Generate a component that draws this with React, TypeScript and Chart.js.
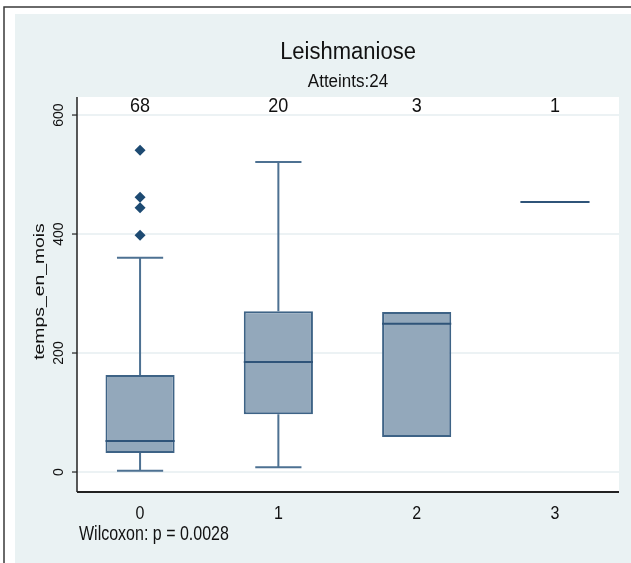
import React, { useEffect, useRef } from "react";
import { Chart, registerables } from "chart.js";

Chart.register(...registerables);

// ---- data ----
const categories = ["0", "1", "2", "3"];
const groupCounts = ["68", "20", "3", "1"];
const q1Values = [32, 97, 59, 454];
const medianValues = [52, 185, 249, 454];
const q3Values = [163, 270, 269, 454];
const whiskerLow = [2, 8, 59, 454];
const whiskerHigh = [360, 521, 269, 454];
const outlierGroups = [0, 0, 0, 0];
const outlierValues = [541, 462, 444, 398];
const yTickValues = [0, 200, 400, 600];
const titleText = "Leishmaniose";
const subtitleText = "Atteints:24";
const yAxisTitle = "temps_en_mois";
const noteText = "Wilcoxon: p = 0.0028";

const FONT = '"Liberation Sans", Arial, sans-serif';

function drawText(
  ctx: CanvasRenderingContext2D,
  text: string,
  x: number,
  y: number,
  size: number,
  align: CanvasTextAlign,
  stretch: number,
  rotated = false,
  color = "#111"
) {
  ctx.save();
  ctx.translate(x, y);
  ctx.scale(1, stretch);
  if (rotated) ctx.rotate(-Math.PI / 2);
  ctx.font = `${size}px ${FONT}`;
  ctx.fillStyle = color;
  ctx.textAlign = align;
  ctx.textBaseline = "alphabetic";
  ctx.fillText(text, 0, 0);
  ctx.restore();
}

const stataPlugin = {
  id: "stataDecor",
  beforeDraw(chart: any) {
    const { ctx, chartArea, scales } = chart;
    const W = chart.width;
    const H = chart.height;
    ctx.save();
    ctx.fillStyle = "#ffffff";
    ctx.fillRect(0, 0, W, H);
    // outer frame lines
    ctx.strokeStyle = "#3a3a3a";
    ctx.lineWidth = 1.5;
    ctx.beginPath();
    ctx.moveTo(4, H);
    ctx.lineTo(4, 7);
    ctx.lineTo(W, 7);
    ctx.stroke();
    // graph region background
    ctx.fillStyle = "#eaf2f3";
    ctx.fillRect(15, 14, W - 15, H - 14);
    // plot region
    ctx.fillStyle = "#ffffff";
    ctx.fillRect(
      chartArea.left,
      chartArea.top,
      chartArea.right - chartArea.left,
      chartArea.bottom - chartArea.top
    );
    // gridlines
    const y = scales.y;
    ctx.strokeStyle = "#e6eef1";
    ctx.lineWidth = 1.5;
    for (const v of yTickValues) {
      const py = y.getPixelForValue(v);
      ctx.beginPath();
      ctx.moveTo(chartArea.left, py);
      ctx.lineTo(chartArea.right, py);
      ctx.stroke();
    }
    ctx.restore();
  },
  beforeDatasetsDraw(chart: any) {
    const { ctx, scales } = chart;
    const x = scales.x;
    const y = scales.y;
    const capHalf = 0.167;
    ctx.save();
    ctx.strokeStyle = "#4d7192";
    ctx.lineWidth = 2;
    categories.forEach((_, i) => {
      const cx = x.getPixelForValue(i);
      const segs: [number, number][] = [];
      if (whiskerHigh[i] > q3Values[i]) segs.push([q3Values[i], whiskerHigh[i]]);
      if (whiskerLow[i] < q1Values[i]) segs.push([q1Values[i], whiskerLow[i]]);
      for (const [a, b] of segs) {
        ctx.beginPath();
        ctx.moveTo(cx, y.getPixelForValue(a));
        ctx.lineTo(cx, y.getPixelForValue(b));
        ctx.moveTo(x.getPixelForValue(i - capHalf), y.getPixelForValue(b));
        ctx.lineTo(x.getPixelForValue(i + capHalf), y.getPixelForValue(b));
        ctx.stroke();
      }
    });
    ctx.restore();
  },
  afterDatasetsDraw(chart: any) {
    const { ctx, scales } = chart;
    const y = scales.y;
    const meta = chart.getDatasetMeta(0);
    ctx.save();
    ctx.strokeStyle = "#2f5479";
    ctx.lineWidth = 2;
    categories.forEach((_, i) => {
      const bar = meta.data[i];
      const half = bar.width / 2;
      const py = y.getPixelForValue(medianValues[i]);
      ctx.beginPath();
      ctx.moveTo(bar.x - half, py);
      ctx.lineTo(bar.x + half, py);
      ctx.stroke();
    });
    ctx.restore();
  },
  afterDraw(chart: any) {
    const { ctx, chartArea, scales } = chart;
    const x = scales.x;
    const y = scales.y;
    ctx.save();
    // axes
    ctx.strokeStyle = "#222222";
    ctx.lineWidth = 1.5;
    ctx.beginPath();
    ctx.moveTo(chartArea.left, chartArea.top);
    ctx.lineTo(chartArea.left, chartArea.bottom);
    ctx.stroke();
    ctx.lineWidth = 2;
    ctx.beginPath();
    ctx.moveTo(chartArea.left, chartArea.bottom);
    ctx.lineTo(chartArea.right, chartArea.bottom);
    ctx.stroke();
    // y ticks
    ctx.lineWidth = 1.2;
    for (const v of yTickValues) {
      const py = y.getPixelForValue(v);
      ctx.beginPath();
      ctx.moveTo(chartArea.left - 5, py);
      ctx.lineTo(chartArea.left, py);
      ctx.stroke();
      drawText(ctx, String(v), chartArea.left - 14.5, py, 14, "center", 1, true);
    }
    ctx.restore();
    // x tick labels and counts
    categories.forEach((c, i) => {
      const px = x.getPixelForValue(i);
      drawText(ctx, c, px, chartArea.bottom + 27, 16, "center", 1.2);
      drawText(ctx, groupCounts[i], px, chartArea.top + 15, 18, "center", 1.1);
    });
    const mid = (chartArea.left + chartArea.right) / 2;
    drawText(ctx, titleText, mid, 59, 22, "center", 1.06);
    drawText(ctx, subtitleText, mid, 87, 17, "center", 1.06);
    drawText(
      ctx,
      yAxisTitle,
      44,
      (chartArea.top + chartArea.bottom) / 2 - 3,
      15,
      "center",
      1.29,
      true
    );
    drawText(ctx, noteText, 79, 540, 16, "left", 1.25);
  },
};

export default function App() {
  const canvasRef = useRef<HTMLCanvasElement | null>(null);

  useEffect(() => {
    const canvas = canvasRef.current;
    if (!canvas) return;
    const boxData = categories.map((_, i) => ({ x: i, y: [q1Values[i], q3Values[i]] }));
    const outlierData = outlierValues.map((v, k) => ({ x: outlierGroups[k], y: v }));
    const chart = new Chart(canvas, {
      type: "bar",
      data: {
        datasets: [
          {
            type: "bar",
            data: boxData as any,
            backgroundColor: "#93a8bb",
            borderColor: "#3e6386",
            borderWidth: 2,
            borderSkipped: false,
            categoryPercentage: 0.5,
            barPercentage: 1,
          } as any,
          {
            type: "scatter",
            data: outlierData,
            pointStyle: "rectRot",
            pointRadius: 5.5,
            backgroundColor: "#1d4a72",
            borderColor: "#1d4a72",
            borderWidth: 0,
          } as any,
        ],
      },
      options: {
        animation: false,
        responsive: false,
        devicePixelRatio: 1,
        layout: { padding: { left: 77, top: 97, right: 12, bottom: 71 } },
        plugins: {
          legend: { display: false },
          title: { display: false },
          tooltip: { enabled: false },
        },
        scales: {
          x: {
            type: "linear",
            min: -0.456,
            max: 3.463,
            display: false,
            offset: false,
            afterBuildTicks: (scale: any) => {
              scale.ticks = categories.map((_, i) => ({ value: i }));
            },
          },
          y: { type: "linear", min: -33.6, max: 630.3, display: false },
        },
      },
      plugins: [stataPlugin],
    });
    return () => chart.destroy();
  }, []);

  return (
    <div style={{ position: "absolute", left: 0, top: 0, width: 631, height: 563 }}>
      <canvas ref={canvasRef} width={631} height={563} style={{ width: 631, height: 563 }} />
    </div>
  );
}
